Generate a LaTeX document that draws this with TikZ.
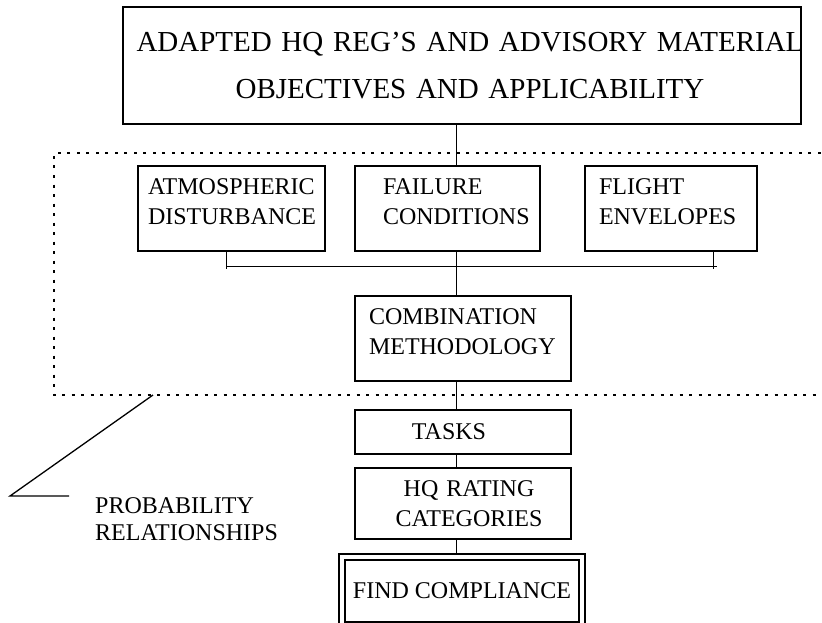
\documentclass[tikz,border=0pt]{standalone}
\usepackage{fontspec}
\setmainfont{Liberation Serif}
\newcommand\boxfont{\fontsize{24}{30}\selectfont}
\newcommand\headfont{\fontsize{29}{47}\selectfont}

\begin{document}
\begin{tikzpicture}[x=1pt,y=-1pt,
    box/.style={draw,line width=2pt,inner sep=0pt,outer sep=0pt,font=\boxfont},
    tbox/.style={box,anchor=north west,align=left,text height=28pt,text depth=57pt,text width=#1},
    lpad/.style={execute at begin node={\leftskip=#1\relax}},
    cbox/.style={box,anchor=north west,align=center},
    cpad/.style={execute at begin node={\leftskip=#1 plus 1fil\rightskip=-#1 plus 1fil\relax}},
    link/.style={line width=1pt},
    frame/.style={line width=2pt,dash pattern=on 3pt off 6.5pt}]
  \useasboundingbox (0,0) rectangle (822,623);

  \draw[frame] (830,153) -| (54,395) -- (830,395);

  \node[cbox,font=\headfont,text width=678pt,minimum height=117pt,cpad=8pt] (top) at (123,7)
    {ADAPTED HQ REG'S AND ADVISORY MATERIAL\\OBJECTIVES AND APPLICABILITY};
  \node[tbox=187pt,lpad=10pt] (atmo) at (138,166) {ATMOSPHERIC\\DISTURBANCE};
  \node[tbox=185pt,lpad=28pt] (fail) at (355,166) {FAILURE\\CONDITIONS};
  \node[tbox=172pt,lpad=14pt] (flight) at (585,166) {FLIGHT\\ENVELOPES};
  \node[tbox=216pt,lpad=14pt] (combo) at (355,296) {COMBINATION\\METHODOLOGY};
  \node[cbox,text width=216pt,minimum height=44pt,cpad=-14pt] (tasks) at (355,410) {TASKS};
  \node[cbox,text width=216pt,minimum height=71pt,cpad=6pt] (rating) at (355,468) {HQ RATING\\CATEGORIES};
  \node[cbox,double,double distance=4pt,minimum width=240pt,minimum height=68.5pt] (comply) at (342,556.5)
    {FIND COMPLIANCE};
  \node[font=\fontsize{24}{27}\selectfont,anchor=base west,align=left,text width=220pt,inner sep=0pt] (prob)
    at (95,513) {PROBABILITY\\RELATIONSHIPS};

  \coordinate (spine) at (456,0);
  \coordinate (busL) at (226,266);
  \coordinate (busR) at (717,266);
  \coordinate (tickR) at (713,266);
  \coordinate (lead) at (153,395);
  \coordinate (elbow) at (10,496);
  \coordinate (leadend) at (69,496);

  \draw[link] (top.south -| spine) -- (fail.north -| spine);
  \draw[link] (busL) -- (busR);
  \draw[link] (atmo.south -| busL) -- ([yshift=-3pt]busL);
  \draw[link] (flight.south -| tickR) -- ([yshift=-3pt]tickR);
  \draw[link] (fail.south -| spine) -- (combo.north -| spine);
  \draw[link] (combo.south -| spine) -- (tasks.north -| spine);
  \draw[link] (tasks.south -| spine) -- (rating.north -| spine);
  \draw[link,shorten >=3pt] (rating.south -| spine) -- (comply.north -| spine);
  \draw[line width=1.3pt] (lead) -- (elbow) -- (leadend);
\end{tikzpicture}
\end{document}
